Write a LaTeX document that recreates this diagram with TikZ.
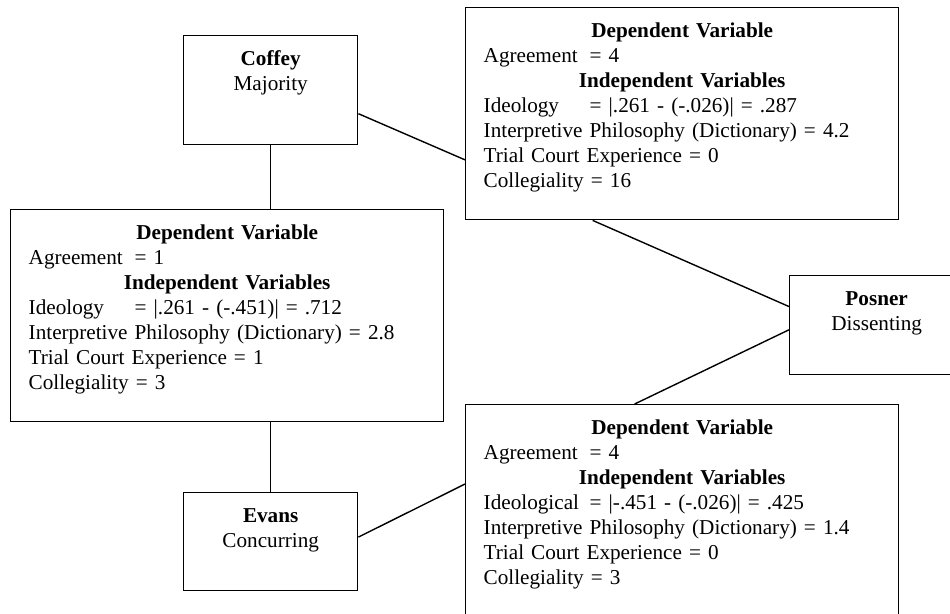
\documentclass[tikz,border=0pt]{standalone}
\usepackage{fontspec}
\setmainfont{Liberation Serif}
\newcommand\varname[1]{\makebox[53pt][l]{#1}}
\newcommand\varhead[1]{\makebox[\linewidth][c]{\bfseries #1}}
\tikzset{
  judge/.style={draw, line width=0.7pt, anchor=north west, align=center,
    text width=79pt, inner xsep=4pt, inner ysep=0pt, text height=15pt},
  pair/.style={draw, line width=0.7pt, anchor=north west, align=left,
    text width=198.5pt, inner xsep=9pt, inner ysep=0pt, text height=15pt, text depth=91pt},
  link/.style={line width=0.7pt}
}
\begin{document}
\begin{tikzpicture}[x=0.5pt, y=-0.5pt, font=\fontsize{10.6}{12.5}\selectfont]
    \clip (0,0) rectangle (950,614);
    \node[judge, text depth=39.5pt] (coffey) at (183,35) {\textbf{Coffey}\\Majority};
    \node[judge, text depth=34.5pt] (posner) at (789,275) {\textbf{Posner}\\Dissenting};
    \node[judge, text depth=34pt] (evans) at (183,492) {\textbf{Evans}\\Concurring};
    \node[pair] (coffeyposner) at (465,7) {\varhead{Dependent Variable}\\
        \varname{Agreement}= 4\\
        \varhead{Independent Variables}\\
        \varname{Ideology}= |.261 - (-.026)| = .287\\
        Interpretive Philosophy (Dictionary) = 4.2\\
        Trial Court Experience = 0\\
        Collegiality = 16};
    \node[pair] (coffeyevans) at (10,209) {\varhead{Dependent Variable}\\
        \varname{Agreement}= 1\\
        \varhead{Independent Variables}\\
        \varname{Ideology}= |.261 - (-.451)| = .712\\
        Interpretive Philosophy (Dictionary) = 2.8\\
        Trial Court Experience = 1\\
        Collegiality = 3};
    \node[pair] (evansposner) at (465,404) {\varhead{Dependent Variable}\\
        \varname{Agreement}= 4\\
        \varhead{Independent Variables}\\
        \varname{Ideological}= |-.451 - (-.026)| = .425\\
        Interpretive Philosophy (Dictionary) = 1.4\\
        Trial Court Experience = 0\\
        Collegiality = 3};
    \draw[link] (coffey.south) -- (coffey.south |- coffeyevans.north);
    \draw[link] (evans.north |- coffeyevans.south) -- (evans.north);
    \draw[link] (coffey.-15) -- (coffeyposner.192.8);
    \draw[link] (coffeyposner.230.1) -- (posner.168.6);
    \draw[link] (posner.183) -- (evansposner.114.1);
    \draw[link] (evans.3.9) -- (evansposner.173.4);
\end{tikzpicture}
\end{document}
